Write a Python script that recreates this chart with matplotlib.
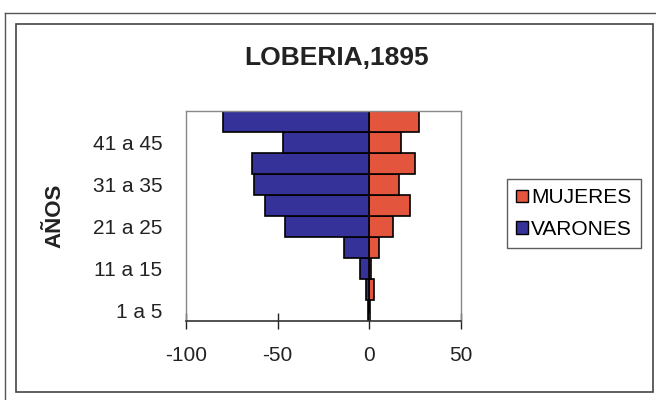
import matplotlib
matplotlib.use("Agg")
import matplotlib.pyplot as plt
from matplotlib.patches import Rectangle, Patch
from matplotlib.lines import Line2D

plt.rcParams['font.family'] = ['Liberation Sans', 'DejaVu Sans']

# grupos de edad, de abajo hacia arriba
edades = ["1 a 5", "6 a 10", "11 a 15", "16 a 20", "21 a 25",
          "26 a 30", "31 a 35", "36 a 40", "41 a 45", "46 a 50"]
varones = [-0.5, -2, -5, -14, -46, -57, -63, -64, -47, -80]
mujeres = [0.5, 2.5, 1, 5, 13, 22, 16, 25, 17, 27]

azul = "#35339a"
rojo = "#e3553d"

fig = plt.figure(figsize=(6.56, 4.0), dpi=100)
W, H = 656, 400

# marcos exterior e interior
fig.add_artist(Line2D([5 / W, 1.0], [1 - 13 / H, 1 - 13 / H], color="#555555", lw=1.0))
fig.add_artist(Line2D([5 / W, 5 / W], [0.0, 1 - 13 / H], color="#555555", lw=1.0))
fig.add_artist(Rectangle((16 / W, 1 - 392 / H), (653 - 16) / W, (392 - 24) / H,
                         transform=fig.transFigure, fill=False, ec="#444444", lw=1.2))

ax = fig.add_axes([186 / W, 1 - 321 / H, (461 - 186) / W, (321 - 111) / H])
y = range(len(edades))
ax.barh(y, mujeres, height=1.0, color=rojo, edgecolor="black", linewidth=1.2, label="MUJERES")
ax.barh(y, varones, height=1.0, color=azul, edgecolor="black", linewidth=1.2, label="VARONES")

ax.set_xlim(-100, 50)
ax.set_ylim(-0.5, len(edades) - 0.5)
ax.set_xticks([-100, -50, 0, 50])
ax.set_xticklabels(["-100", "-50", "0", "50"], fontsize=15)
ax.set_yticks(list(y)[::2])
ax.set_yticklabels(edades[::2], fontsize=15)
ax.tick_params(axis="y", length=0, pad=17, colors="#222222")
ax.tick_params(axis="x", direction="inout", length=12, width=1.0, pad=12, colors="#222222")

for s in ["top", "right", "left"]:
    ax.spines[s].set_color("#888888")
    ax.spines[s].set_linestyle((0, (1, 1)))
    ax.spines[s].set_linewidth(1.0)
ax.spines["bottom"].set_color("#333333")
ax.spines["bottom"].set_linewidth(1.2)

fig.text(337 / W, 1 - 58 / H, "LOBERIA,1895", fontsize=19, fontweight="bold",
         ha="center", va="center", color="#222222")
fig.text(55 / W, 1 - 216 / H, "AÑOS", fontsize=16, fontweight="bold",
         rotation=90, ha="center", va="center", color="#222222")

handles = [Patch(facecolor=rojo, edgecolor="black", label="MUJERES"),
           Patch(facecolor=azul, edgecolor="black", label="VARONES")]
leg = fig.legend(handles=handles, loc="upper left", bbox_to_anchor=(507 / W, 1 - 179 / H),
                 bbox_transform=fig.transFigure, fontsize=15, frameon=True, fancybox=False,
                 handlelength=0.55, handleheight=0.55, handletextpad=0.15, borderpad=0.45,
                 borderaxespad=0, labelspacing=0.6)
leg.get_frame().set_edgecolor("#333333")
leg.get_frame().set_linewidth(1.0)

fig.savefig("out.png", dpi=100)
